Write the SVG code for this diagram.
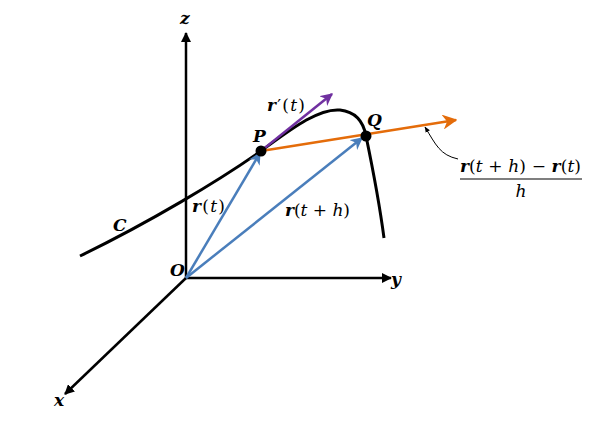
<svg xmlns="http://www.w3.org/2000/svg" width="603" height="429" viewBox="0 0 603 429">
<style>
.ax{stroke:#000;stroke-width:2.5;fill:none}
.t{font-family:"DejaVu Serif","Liberation Serif",serif;font-size:17px;fill:#000}
.bi{font-weight:bold;font-style:italic}
.it{font-style:italic}
</style>
<defs>
<marker id="ak" viewBox="0 0 10 10" refX="9" refY="5" markerWidth="4" markerHeight="4" orient="auto"><path d="M0,0L10,5L0,10z" fill="#000"/></marker>
<marker id="ab" viewBox="0 0 10 10" refX="9" refY="5" markerWidth="5" markerHeight="5" orient="auto"><path d="M0,0L10,5L0,10L3,5z" fill="#4a7ebb"/></marker>
<marker id="ap" viewBox="0 0 10 10" refX="9" refY="5" markerWidth="5" markerHeight="5" orient="auto"><path d="M0,0L10,5L0,10L3,5z" fill="#7030a0"/></marker>
<marker id="ao" viewBox="0 0 10 10" refX="9" refY="5" markerWidth="6" markerHeight="6" orient="auto"><path d="M0,0L10,5L0,10L3,5z" fill="#e46c0a"/></marker>
<marker id="as" viewBox="0 0 10 10" refX="9" refY="5" markerWidth="6" markerHeight="6" orient="auto"><path d="M0,1L10,5L0,9z" fill="#000"/></marker>
</defs>
<rect width="603" height="429" fill="#fff"/>
<g id="connectors">
<line class="ax" x1="186" y1="278" x2="186" y2="33" marker-end="url(#ak)"/>
<line class="ax" x1="186" y1="278" x2="391" y2="278" marker-end="url(#ak)"/>
<line class="ax" x1="186" y1="278" x2="65" y2="394" marker-end="url(#ak)"/>
<path id="curve" d="M80,256 C150,222 220,180 261,151 C290,130 318,108 340,110 C358,112 364,125 366,136 C372,165 379,200 384,238" stroke="#000" stroke-width="3" fill="none"/>
<line x1="186" y1="278" x2="260" y2="153" stroke="#4a7ebb" stroke-width="2.5" marker-end="url(#ab)"/>
<line x1="186" y1="278" x2="362" y2="138" stroke="#4a7ebb" stroke-width="2.5" marker-end="url(#ab)"/>
<line x1="261" y1="151" x2="332" y2="94" stroke="#7030a0" stroke-width="2.5" marker-end="url(#ap)"/>
<line x1="261" y1="151" x2="456" y2="120" stroke="#e46c0a" stroke-width="2.5" marker-end="url(#ao)"/>
<path d="M458,159 C440,155 436,145 425,127" stroke="#000" stroke-width="1" fill="none" marker-end="url(#as)"/>
</g>
<g id="P"><circle cx="261" cy="151" r="5.5" fill="#000"/><text class="t bi" x="253" y="142">P</text></g>
<g id="Q"><circle cx="366" cy="136" r="5.5" fill="#000"/><text class="t bi" x="367" y="126">Q</text></g>
<g id="labels">
<text class="t bi" x="180" y="24">z</text>
<text class="t bi" x="391" y="285">y</text>
<text class="t bi" x="54" y="406">x</text>
<text class="t bi" x="170" y="276">O</text>
<text class="t bi" x="113" y="231">C</text>
<text class="t" x="267" y="111" textLength="38"><tspan class="bi">r</tspan>′(<tspan class="it">t</tspan>)</text>
<text class="t" x="192" y="212" textLength="33"><tspan class="bi">r</tspan>(<tspan class="it">t</tspan>)</text>
<text class="t" x="285" y="216" textLength="65"><tspan class="bi">r</tspan>(<tspan class="it">t</tspan> + <tspan class="it">h</tspan>)</text>
<text class="t" x="460" y="172" textLength="121"><tspan class="bi">r</tspan>(<tspan class="it">t</tspan> + <tspan class="it">h</tspan>) − <tspan class="bi">r</tspan>(<tspan class="it">t</tspan>)</text>
<line x1="460" y1="179" x2="582" y2="179" stroke="#000" stroke-width="1.2"/>
<text class="t it" x="521" y="197" text-anchor="middle">h</text>
</g>
</svg>
